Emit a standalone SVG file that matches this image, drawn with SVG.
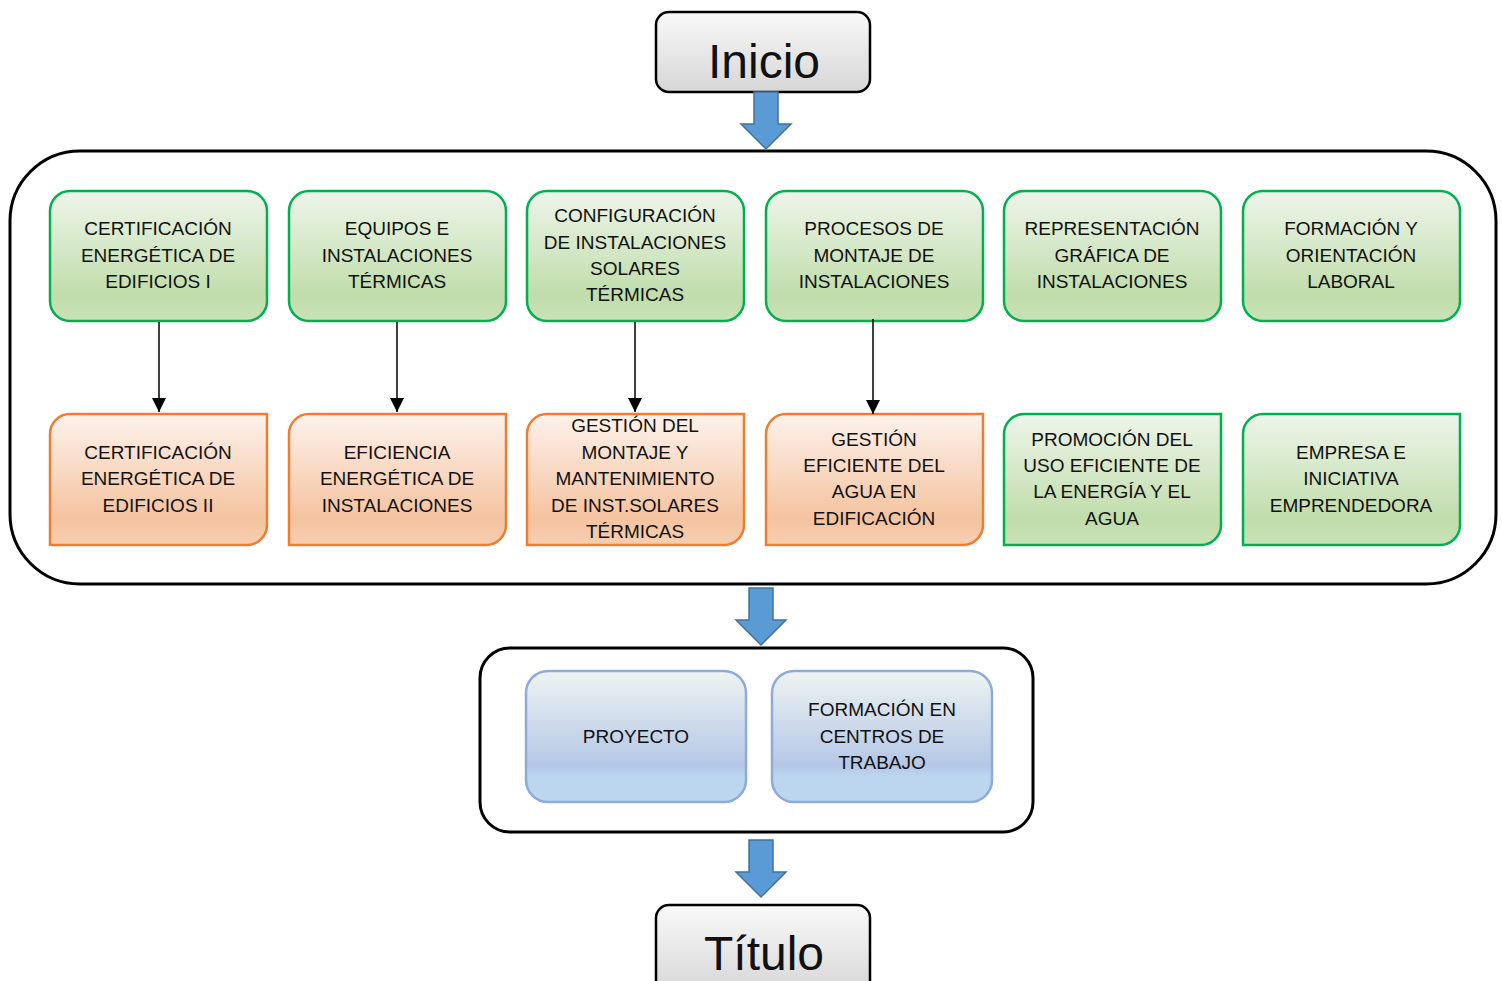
<svg xmlns="http://www.w3.org/2000/svg" width="1502" height="981" viewBox="0 0 1502 981">
<defs>
<linearGradient id="gGreen" x1="0" y1="0" x2="0" y2="1">
<stop offset="0" stop-color="#EEF5EA"/><stop offset="0.8" stop-color="#C0DDAB"/><stop offset="1" stop-color="#C9E2B8"/>
</linearGradient>
<linearGradient id="gOrange" x1="0" y1="0" x2="0" y2="1">
<stop offset="0" stop-color="#FDF2EC"/><stop offset="0.8" stop-color="#F5C39F"/><stop offset="1" stop-color="#F7CFB1"/>
</linearGradient>
<linearGradient id="gBlue" x1="0" y1="0" x2="0" y2="1">
<stop offset="0" stop-color="#EFF4F2"/><stop offset="0.72" stop-color="#B4C7E6"/><stop offset="0.8" stop-color="#BBD5EE"/><stop offset="1" stop-color="#BDD7EE"/>
</linearGradient>
<linearGradient id="gGray" x1="0" y1="0" x2="0" y2="1">
<stop offset="0" stop-color="#F9F9F9"/><stop offset="1" stop-color="#D6D6D6"/>
</linearGradient>
<marker id="arr" markerWidth="14" markerHeight="14" refX="14" refY="7" orient="auto" markerUnits="userSpaceOnUse" viewBox="0 0 14 14">
<path d="M0,0 L14,7 L0,14 Z" fill="#000"/>
</marker>
<path id="bigArrow" d="M-12,0 H12 V32 H25 L0,57 L-25,32 H-12 Z"/>
</defs>
<style>
.t{font-family:"Liberation Sans",Arial,sans-serif;font-size:19px;fill:#111;text-anchor:middle}
.big{font-family:"Liberation Sans",Arial,sans-serif;font-size:48px;fill:#111;text-anchor:middle}
.green{fill:url(#gGreen);stroke:#00B050;stroke-width:2.5}
.orange{fill:url(#gOrange);stroke:#ED7D31;stroke-width:2.5}
.blue{fill:url(#gBlue);stroke:#8FAADC;stroke-width:2.5}
.gray{fill:url(#gGray);stroke:#000;stroke-width:2.5}
.cont{fill:#fff;stroke:#000;stroke-width:3}
.ba{fill:#5B9BD5;stroke:#41719C;stroke-width:1.5}
.conn{stroke:#000;stroke-width:1.5;fill:none}
</style>
<rect width="1502" height="981" fill="#fff"/>

<g id="inicio">
<rect class="gray" x="656" y="12" width="214" height="80" rx="13"/>
<text class="big" x="764" y="78">Inicio</text>
</g>

<g id="main-container"><rect class="cont" x="10" y="151" width="1486" height="433" rx="70"/></g>

<g id="n1"><rect class="green" x="50" y="191" width="217" height="130" rx="20"/>
<text class="t" x="158" y="235">CERTIFICACIÓN</text><text class="t" x="158" y="262">ENERGÉTICA DE</text><text class="t" x="158" y="288">EDIFICIOS I</text></g>
<g id="n2"><rect class="green" x="289" y="191" width="217" height="130" rx="20"/>
<text class="t" x="397" y="235">EQUIPOS E</text><text class="t" x="397" y="262">INSTALACIONES</text><text class="t" x="397" y="288">TÉRMICAS</text></g>
<g id="n3"><rect class="green" x="527" y="191" width="217" height="130" rx="20"/>
<text class="t" x="635" y="222">CONFIGURACIÓN</text><text class="t" x="635" y="249">DE INSTALACIONES</text><text class="t" x="635" y="275">SOLARES</text><text class="t" x="635" y="301">TÉRMICAS</text></g>
<g id="n4"><rect class="green" x="766" y="191" width="217" height="130" rx="20"/>
<text class="t" x="874" y="235">PROCESOS DE</text><text class="t" x="874" y="262">MONTAJE DE</text><text class="t" x="874" y="288">INSTALACIONES</text></g>
<g id="n5"><rect class="green" x="1004" y="191" width="217" height="130" rx="20"/>
<text class="t" x="1112" y="235">REPRESENTACIÓN</text><text class="t" x="1112" y="262">GRÁFICA DE</text><text class="t" x="1112" y="288">INSTALACIONES</text></g>
<g id="n6"><rect class="green" x="1243" y="191" width="217" height="130" rx="20"/>
<text class="t" x="1351" y="235">FORMACIÓN Y</text><text class="t" x="1351" y="262">ORIENTACIÓN</text><text class="t" x="1351" y="288">LABORAL</text></g>

<g id="n7"><path class="orange" d="M70,414 H267 V525 A20,20 0 0 1 247,545 H50 V434 A20,20 0 0 1 70,414 Z"/>
<text class="t" x="158" y="459">CERTIFICACIÓN</text><text class="t" x="158" y="485">ENERGÉTICA DE</text><text class="t" x="158" y="512">EDIFICIOS II</text></g>
<g id="n8"><path class="orange" d="M309,414 H506 V525 A20,20 0 0 1 486,545 H289 V434 A20,20 0 0 1 309,414 Z"/>
<text class="t" x="397" y="459">EFICIENCIA</text><text class="t" x="397" y="485">ENERGÉTICA DE</text><text class="t" x="397" y="512">INSTALACIONES</text></g>
<g id="n9"><path class="orange" d="M547,414 H744 V525 A20,20 0 0 1 724,545 H527 V434 A20,20 0 0 1 547,414 Z"/>
<text class="t" x="635" y="432">GESTIÓN DEL</text><text class="t" x="635" y="459">MONTAJE Y</text><text class="t" x="635" y="485">MANTENIMIENTO</text><text class="t" x="635" y="512">DE INST.SOLARES</text><text class="t" x="635" y="538">TÉRMICAS</text></g>
<g id="n10"><path class="orange" d="M786,414 H983 V525 A20,20 0 0 1 963,545 H766 V434 A20,20 0 0 1 786,414 Z"/>
<text class="t" x="874" y="446">GESTIÓN</text><text class="t" x="874" y="472">EFICIENTE DEL</text><text class="t" x="874" y="498">AGUA EN</text><text class="t" x="874" y="525">EDIFICACIÓN</text></g>
<g id="n11"><path class="green" d="M1024,414 H1221 V525 A20,20 0 0 1 1201,545 H1004 V434 A20,20 0 0 1 1024,414 Z"/>
<text class="t" x="1112" y="446">PROMOCIÓN DEL</text><text class="t" x="1112" y="472">USO EFICIENTE DE</text><text class="t" x="1112" y="498">LA ENERGÍA Y EL</text><text class="t" x="1112" y="525">AGUA</text></g>
<g id="n12"><path class="green" d="M1263,414 H1460 V525 A20,20 0 0 1 1440,545 H1243 V434 A20,20 0 0 1 1263,414 Z"/>
<text class="t" x="1351" y="459">EMPRESA E</text><text class="t" x="1351" y="485">INICIATIVA</text><text class="t" x="1351" y="512">EMPRENDEDORA</text></g>

<g id="lower-container"><rect class="cont" x="480" y="648" width="553" height="184" rx="30"/></g>
<g id="proyecto"><rect class="blue" x="526" y="671" width="220" height="131" rx="22"/>
<text class="t" x="636" y="743">PROYECTO</text></g>
<g id="fct"><rect class="blue" x="772" y="671" width="220" height="131" rx="22"/>
<text class="t" x="882" y="716">FORMACIÓN EN</text><text class="t" x="882" y="743">CENTROS DE</text><text class="t" x="882" y="769">TRABAJO</text></g>

<g id="titulo">
<rect class="gray" x="656" y="905" width="214" height="90" rx="13"/>
<text class="big" x="764" y="970">Título</text>
</g>

<g id="connectors">
<line class="conn" x1="159" y1="322" x2="159" y2="412" marker-end="url(#arr)"/>
<line class="conn" x1="397" y1="322" x2="397" y2="412" marker-end="url(#arr)"/>
<line class="conn" x1="635" y1="322" x2="635" y2="412" marker-end="url(#arr)"/>
<line class="conn" x1="873" y1="319" x2="873" y2="414" marker-end="url(#arr)"/>
<use href="#bigArrow" class="ba" transform="translate(766,92)"/>
<use href="#bigArrow" class="ba" transform="translate(761,588)"/>
<use href="#bigArrow" class="ba" transform="translate(761,840)"/>
</g>
</svg>
